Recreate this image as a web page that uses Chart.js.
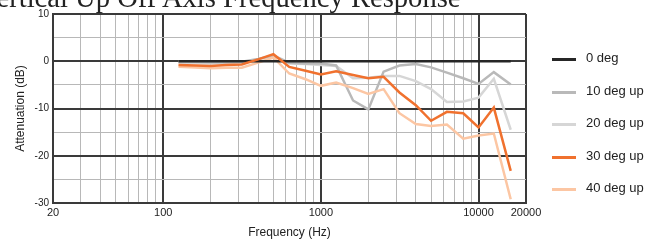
<!DOCTYPE html>
<html>
<head>
<meta charset="utf-8">
<script src="https://cdn.jsdelivr.net/npm/chart.js@4.4.1/dist/chart.umd.min.js"></script>
<style>
  body { margin: 0; background: #fff; }
  #wrap { position: relative; width: 660px; height: 245px; overflow: hidden; }
  #title { position: absolute; left: -21px; top: -16px; font-family: "Liberation Serif", serif; font-size: 28.6px; line-height: 28px; color: #222; white-space: nowrap; }
  #legend { position: absolute; left: 552px; top: 50px; font-family: "Liberation Sans", Arial, sans-serif; font-size: 13px; color: #222; }
  .lg-item { height: 32.5px; display: flex; align-items: flex-start; }
  .lg-line { width: 24px; height: 3px; margin-top: 8px; margin-right: 10px; }
</style>
</head>
<body>
<div id="wrap">
  <canvas id="chart" width="660" height="245"></canvas>
  <div id="title">Vertical Up Off Axis Frequency Response</div>
  <div id="legend"></div>
</div>
<script>
// === Data ===
const freqs = [125, 160, 200, 250, 315, 400, 500, 630, 800, 1000, 1250, 1600, 2000, 2500, 3150, 4000, 5000, 6300, 8000, 10000, 12500, 16000];
const deg0  = [0, 0, 0, 0, 0, 0, 0, 0, 0, 0, 0, 0, 0, 0, 0, 0, 0, 0, 0, 0, 0, 0];
const deg10 = [0, -0.1, -0.2, -0.2, -0.1, 0.5, 1.2, -0.3, -0.5, -0.5, -0.9, -8.3, -10.2, -2.2, -0.9, -0.6, -1.3, -2.4, -3.6, -4.8, -2.3, -4.9];
const deg20 = [-0.3, -0.4, -0.5, -0.4, -0.3, 0.4, 1.1, -0.5, -0.6, -0.8, -1.0, -3.6, -3.5, -3.1, -3.1, -4.2, -5.9, -8.6, -8.5, -7.7, -3.7, -14.5];
const deg30 = [-0.8, -0.9, -1.0, -0.8, -0.7, 0.4, 1.5, -1.2, -2.0, -2.8, -2.1, -2.9, -3.6, -3.3, -6.6, -9.3, -12.6, -10.7, -11.0, -14.0, -9.8, -23.2];
const deg40 = [-1.15, -1.3, -1.5, -1.4, -1.35, -0.3, 0.8, -2.6, -3.8, -5.2, -4.5, -5.7, -6.9, -5.9, -11.0, -13.3, -13.7, -13.4, -16.4, -15.7, -15.3, -29.2];

const seriesNames = ['0 deg', '10 deg up', '20 deg up', '30 deg up', '40 deg up'];
const seriesValues = [deg0, deg10, deg20, deg30, deg40];
const seriesColors = ['#262626', '#b9b9b9', '#d6d6d6', '#f0712e', '#fcc6a3'];
const seriesOrder = [1, 3, 4, 0, 2]; // lower = drawn on top

const xTicks = [20, 30, 40, 50, 60, 70, 80, 90, 100, 200, 300, 400, 500, 600, 700, 800, 900,
  1000, 2000, 3000, 4000, 5000, 6000, 7000, 8000, 9000, 10000, 20000];
const xLabels = [20, 100, 1000, 10000, 20000];
const yMin = -30, yMax = 10, yStep = 5;

const majorGrid = '#3a3a3a';
const minorGrid = '#b8b8b8';

// === Build datasets ===
const datasets = seriesNames.map((name, i) => ({
  label: name,
  data: freqs.map((f, j) => ({ x: f, y: seriesValues[i][j] })),
  borderColor: seriesColors[i],
  backgroundColor: seriesColors[i],
  borderWidth: 2.5,
  pointRadius: 0,
  tension: 0,
  order: seriesOrder[i]
}));

const isDecade = v => xLabels.includes(v);

new Chart(document.getElementById('chart'), {
  type: 'line',
  data: { datasets },
  options: {
    responsive: false,
    animation: false,
    layout: { padding: { top: 14, right: 134, left: 0, bottom: 0 } },
    plugins: { legend: { display: false }, tooltip: { enabled: false } },
    scales: {
      x: {
        type: 'logarithmic',
        min: 20,
        max: 20000,
        afterBuildTicks: scale => { scale.ticks = xTicks.map(v => ({ value: v })); },
        afterFit: scale => { scale.height = 42; },
        ticks: {
          autoSkip: false,
          maxRotation: 0,
          padding: 3,
          color: '#222',
          font: { family: 'Liberation Sans', size: 11 },
          callback: v => (xLabels.includes(v) ? String(v) : '')
        },
        grid: {
          drawTicks: false,
          color: ctx => (isDecade(ctx.tick && ctx.tick.value) ? majorGrid : minorGrid),
          lineWidth: ctx => (isDecade(ctx.tick && ctx.tick.value) ? 2 : 1)
        },
        border: { color: majorGrid, width: 2 },
        title: {
          display: true,
          text: 'Frequency (Hz)',
          color: '#222',
          font: { family: 'Liberation Sans', size: 12 },
          padding: { top: 0, bottom: 5 }
        }
      },
      y: {
        min: yMin,
        max: yMax,
        afterFit: scale => { scale.width = 53; },
        ticks: {
          stepSize: yStep,
          padding: 4,
          color: '#222',
          font: { family: 'Liberation Sans', size: 10 },
          callback: v => (v % 10 === 0 ? String(v) : '')
        },
        grid: {
          drawTicks: false,
          color: ctx => (ctx.tick && ctx.tick.value % 10 === 0 ? majorGrid : minorGrid),
          lineWidth: ctx => (ctx.tick && ctx.tick.value % 10 === 0 ? 2 : 1)
        },
        border: { color: majorGrid, width: 2 },
        title: {
          display: true,
          text: 'Attenuation (dB)',
          color: '#222',
          font: { family: 'Liberation Sans', size: 12 },
          padding: { top: 13, bottom: 0 }
        }
      }
    }
  }
});

// === Legend ===
const legendEl = document.getElementById('legend');
seriesNames.forEach((name, i) => {
  const item = document.createElement('div');
  item.className = 'lg-item';
  item.innerHTML = `<span class="lg-line" style="background:${seriesColors[i]}"></span><span>${name}</span>`;
  legendEl.appendChild(item);
});
</script>
</body>
</html>
